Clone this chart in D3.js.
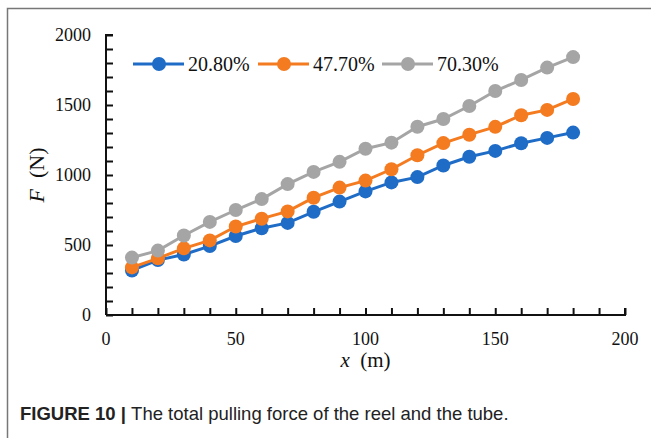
<!DOCTYPE html>
<html lang="en">
<head>
    <title>Total pulling force</title>
    <script src="https://d3js.org/d3.v7.min.js"></script>
    <style>
        body{
            margin: 0;
            background: #fff;
        }
        text{
            font-family: 'Liberation Serif', 'Times New Roman', Times, serif;
            fill: #111;
        }
        .caption text{
            font-family: 'Liberation Sans', Arial, Helvetica, sans-serif;
            fill: #222;
        }
    </style>
</head>
<body>
<div id="chart"></div>
<script>

// data
var xValues = [10, 20, 30, 40, 50, 60, 70, 80, 90, 100, 110, 120, 130, 140, 150, 160, 170, 180]
var seriesNames = ["20.80%", "47.70%", "70.30%"]
var seriesColors = ["#1f6cc7", "#f47b20", "#a5a5a5"]
var f208 = [318, 392, 432, 492, 564, 620, 658, 737, 810, 883, 947, 985, 1068, 1130, 1172, 1227, 1265, 1303]
var f477 = [340, 405, 476, 533, 632, 688, 740, 838, 910, 960, 1041, 1141, 1228, 1288, 1344, 1427, 1465, 1543]
var f703 = [410, 460, 568, 665, 750, 828, 935, 1022, 1094, 1188, 1231, 1345, 1400, 1493, 1600, 1679, 1767, 1842]
var xTicks = [0, 50, 100, 150, 200]
var yTicks = [0, 500, 1000, 1500, 2000]

var seriesValues = [f208, f477, f703]
var series = seriesNames.map((name, i) => ({
    name: name,
    color: seriesColors[i],
    points: xValues.map((x, j) => ({x: x, y: seriesValues[i][j]}))
}))

var width = 651
var height = 438

var svg = d3.select("#chart")
  .append("svg")
    .attr("width", width)
    .attr("height", height)

// frame of the figure panel
svg.append("path")
    .attr("d", "M7.5," + height + " V8.5 H" + width)
    .attr("fill", "none")
    .attr("stroke", "#777")
    .attr("stroke-width", 1.5)

var x = d3.scaleLinear().domain([0, 200]).range([106, 625])
var y = d3.scaleLinear().domain([0, 2000]).range([315, 35])

// x axis, ticks pointing inward
var xAxis = svg.append("g")
    .attr("transform", "translate(0," + y(0) + ")")
    .call(d3.axisTop(x).tickValues(d3.range(0, 201, 10)).tickSize(7).tickFormat(""))
xAxis.select(".domain").attr("stroke", "#111").attr("stroke-width", 2).attr("d", "M" + x(0) + ",0H" + x(200) + "V-7")
xAxis.selectAll(".tick line").attr("stroke", "#111").attr("stroke-width", 2)

svg.append("g")
    .selectAll("text")
    .data(xTicks)
    .join("text")
    .attr("x", d => x(d))
    .attr("y", y(0) + 30)
    .attr("text-anchor", "middle")
    .style("font-size", "18px")
    .text(d => d)

// y axis, ticks pointing inward
var yAxis = svg.append("g")
    .attr("transform", "translate(" + x(0) + ",0)")
    .call(d3.axisRight(y).tickValues(d3.range(0, 2001, 100)).tickSize(7).tickFormat(""))
yAxis.select(".domain").attr("stroke", "#111").attr("stroke-width", 2).attr("d", "M7," + y(2000) + "H0V" + y(0))
yAxis.selectAll(".tick line").attr("stroke", "#111").attr("stroke-width", 2)

svg.append("g")
    .selectAll("text")
    .data(yTicks)
    .join("text")
    .attr("x", x(0) - 15)
    .attr("y", d => y(d) + 6)
    .attr("text-anchor", "end")
    .style("font-size", "18px")
    .text(d => d)

// axis titles
var yTitle = svg.append("text")
    .attr("transform", "translate(44,175) rotate(-90)")
    .attr("text-anchor", "middle")
    .style("font-size", "22px")
yTitle.append("tspan").style("font-style", "italic").text("F")
yTitle.append("tspan").text("\u00a0 (N)")

var xTitle = svg.append("text")
    .attr("x", x(100))
    .attr("y", 367)
    .attr("text-anchor", "middle")
    .style("font-size", "21px")
xTitle.append("tspan").style("font-style", "italic").text("x")
xTitle.append("tspan").text("\u00a0 (m)")

// lines and markers
var line = d3.line().x(d => x(d.x)).y(d => y(d.y))

var groups = svg.append("g")
    .selectAll("g.series")
    .data(series)
    .join("g")
    .attr("class", "series")

groups.append("path")
    .attr("d", d => line(d.points))
    .attr("fill", "none")
    .attr("stroke", d => d.color)
    .attr("stroke-width", 3)

groups.selectAll("circle")
    .data(d => d.points.map(p => ({x: p.x, y: p.y, color: d.color})))
    .join("circle")
    .attr("cx", d => x(d.x))
    .attr("cy", d => y(d.y))
    .attr("r", 7)
    .attr("fill", d => d.color)

// legend
var legendX = [133, 258, 382]
var legend = svg.append("g")
    .selectAll("g")
    .data(series)
    .join("g")
    .attr("transform", (d, i) => "translate(" + legendX[i] + ",64)")

legend.append("line")
    .attr("x1", 0).attr("x2", 51)
    .attr("stroke", d => d.color)
    .attr("stroke-width", 3)
legend.append("circle")
    .attr("cx", 26)
    .attr("r", 7)
    .attr("fill", d => d.color)
legend.append("text")
    .attr("x", 55)
    .attr("y", 7)
    .style("font-size", "20px")
    .text(d => d.name)

// caption
var caption = svg.append("g").attr("class", "caption")
var capText = caption.append("text")
    .attr("x", 20)
    .attr("y", 420)
    .style("font-size", "18.5px")
capText.append("tspan").style("font-weight", "bold").text("FIGURE 10 | ")
capText.append("tspan").text("The total pulling force of the reel and the tube.")

</script>
</body>
</html>
